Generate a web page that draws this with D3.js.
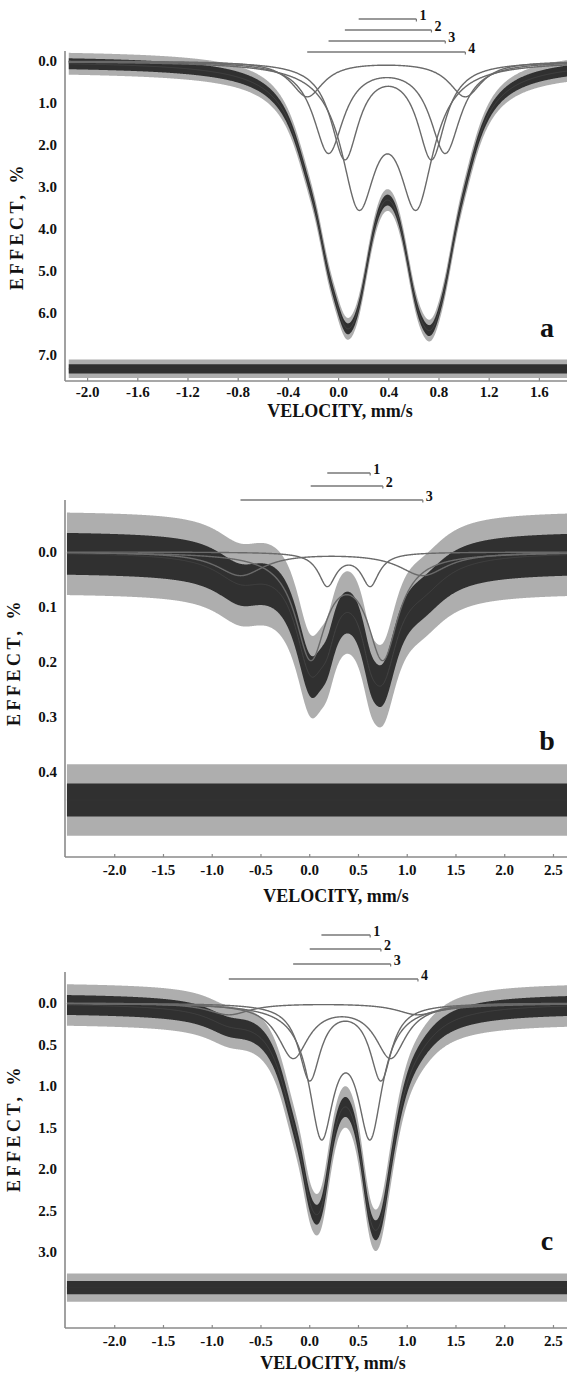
<!DOCTYPE html>
<html><head><meta charset="utf-8">
<script src="https://cdn.jsdelivr.net/npm/d3@7"></script>
<style>
body{margin:0;background:#fff}
svg{display:block}
text{font-family:"Liberation Serif","Times New Roman",serif;font-weight:bold;fill:#111}
</style>
</head><body>
<svg id="fig" width="567" height="1374"></svg>
<script>
// ---------- Panel a : doublet parameters (mm/s, effect %) ----------
const aLeftLine  = [0.16, 0.05, -0.08, -0.25];
const aRightLine = [0.62, 0.74, 0.85, 1.01];
const aHwhm      = [0.168, 0.135, 0.148, 0.158];
const aAmp       = [3.18, 2.27, 2.15, 0.84];
const aXTicks    = [-2.0, -1.6, -1.2, -0.8, -0.4, 0.0, 0.4, 0.8, 1.2, 1.6, 2.0];
const aYTicks    = [0.0, 1.0, 2.0, 3.0, 4.0, 5.0, 6.0, 7.0];
const aVelRange  = [-2.15, 1.85];
const aResidual  = 7.33;
const aNoise     = [0.13, 0.26, 0.11, 0.22]; // data core, data spikes, residual core, residual spikes

// ---------- Panel b ----------
const bLeftLine  = [0.18, 0.01, -0.71];
const bRightLine = [0.62, 0.75, 1.16];
const bHwhm      = [0.11, 0.19, 0.30];
const bAmp       = [0.0595, 0.186, 0.042];
const bXTicks    = [-2.0, -1.5, -1.0, -0.5, 0.0, 0.5, 1.0, 1.5, 2.0, 2.5, 3.0];
const bYTicks    = [0.0, 0.1, 0.2, 0.3, 0.4];
const bVelRange  = [-2.49, 2.65];
const bResidual  = 0.451;
const bNoise     = [0.038, 0.075, 0.03, 0.065];

// ---------- Panel c ----------
const cLeftLine  = [0.12, 0.0, -0.17, -0.83];
const cRightLine = [0.62, 0.73, 0.83, 1.11];
const cHwhm      = [0.155, 0.135, 0.192, 0.266];
const cAmp       = [1.517, 0.91, 0.647, 0.14];
const cXTicks    = [-2.0, -1.5, -1.0, -0.5, 0.0, 0.5, 1.0, 1.5, 2.0, 2.5, 3.0];
const cYTicks    = [0.0, 0.5, 1.0, 1.5, 2.0, 2.5, 3.0];
const cVelRange  = [-2.49, 2.65];
const cResidual  = 3.43;
const cNoise     = [0.12, 0.25, 0.08, 0.17];

const svg = d3.select("#fig");
svg.append("rect").attr("width",567).attr("height",1374).attr("fill","#fff");

function lor(v, c, g){ return g*g/((v-c)*(v-c)+g*g); }

function panel(cfg){
  const g = svg.append("g");
  const x = d3.scaleLinear().domain(cfg.xDom).range(cfg.xRng);
  const y = d3.scaleLinear().domain(cfg.yDom).range(cfg.yRng);
  const n = cfg.left.length;
  const comps = d3.range(n).map(i => ({l:cfg.left[i], r:cfg.right[i], w:cfg.hwhm[i], a:cfg.amp[i]}));
  const vs = d3.range(cfg.vel[0], cfg.vel[1]+1e-9, 0.004);
  const compVal = (c,v) => c.a*(lor(v,c.l,c.w)+lor(v,c.r,c.w));
  const total = v => d3.sum(comps, c => compVal(c,v));

  // axes lines
  const axCol = "#8a8a8a";
  g.append("line").attr("x1",cfg.xRng[0]).attr("x2",cfg.xRng[0])
    .attr("y1",cfg.axisTop).attr("y2",cfg.axisBottom).attr("stroke",axCol).attr("stroke-width",1.6);
  g.append("line").attr("x1",cfg.xRng[0]).attr("x2",620)
    .attr("y1",cfg.axisBottom).attr("y2",cfg.axisBottom).attr("stroke",axCol).attr("stroke-width",1.6);

  // x ticks
  const xa = g.append("g");
  cfg.xTicks.forEach(t => {
    const px = x(t);
    xa.append("line").attr("x1",px).attr("x2",px).attr("y1",cfg.axisBottom).attr("y2",cfg.axisBottom-3)
      .attr("stroke",axCol).attr("stroke-width",1.2);
    xa.append("text").attr("x",px).attr("y",cfg.axisBottom+cfg.tickDy).attr("text-anchor","middle")
      .attr("font-size",15).text(d3.format(".1f")(t).replace("\u2212","-"));
  });
  // y tick labels
  cfg.yTicks.forEach(t => {
    g.append("text").attr("x",cfg.xRng[0]-8).attr("y",y(t)+5).attr("text-anchor","end")
      .attr("font-size",15).text(d3.format(".1f")(t));
  });

  // data band (experimental points with errors)
  const areaOf = (f, h) => d3.area().x(v => x(v)).y0(v => y(f(v)-h)).y1(v => y(f(v)+h));
  g.append("path").datum(vs).attr("d", areaOf(total, cfg.noise[1])).attr("fill","#9a9a9a").attr("opacity",0.8);
  g.append("path").datum(vs).attr("d", areaOf(total, cfg.noise[0])).attr("fill","#222").attr("opacity",0.9);
  // residual band
  const resid = () => cfg.resid;
  g.append("path").datum(vs).attr("d", areaOf(resid, cfg.noise[3])).attr("fill","#9a9a9a").attr("opacity",0.8);
  g.append("path").datum(vs).attr("d", areaOf(resid, cfg.noise[2])).attr("fill","#222").attr("opacity",0.9);
  g.append("line").attr("x1",x(cfg.vel[0])).attr("x2",x(cfg.vel[1]))
    .attr("y1",y(cfg.resid)).attr("y2",y(cfg.resid)).attr("stroke","#333").attr("stroke-width",1);

  // component curves
  const line = d3.line().x(v => x(v));
  comps.forEach(c => {
    g.append("path").datum(vs).attr("d", line.y(v => y(compVal(c,v)))).attr("fill","none")
      .attr("stroke","#6a6a6a").attr("stroke-width",1.4);
  });
  g.append("path").datum(vs).attr("d", line.y(v => y(total(v)))).attr("fill","none")
    .attr("stroke","#444").attr("stroke-width",1);

  // legend bars
  comps.forEach((c,i) => {
    const by = cfg.barY[i];
    g.append("line").attr("x1",x(c.l)).attr("x2",x(c.r)).attr("y1",by).attr("y2",by)
      .attr("stroke","#777").attr("stroke-width",1.5);
    g.append("line").attr("x1",x(c.r)).attr("x2",x(c.r)).attr("y1",by).attr("y2",by+2.5)
      .attr("stroke","#777").attr("stroke-width",1.2);
    g.append("text").attr("x",x(c.r)+3).attr("y",by+1).attr("font-size",14).text(i+1);
  });

  // axis titles
  g.append("text").attr("transform",`translate(${cfg.yTitle[0]},${cfg.yTitle[1]}) rotate(-90)`)
    .attr("text-anchor","middle").attr("font-size",18).attr("letter-spacing","3.5px").text("EFFECT, %");
  g.append("text").attr("x",cfg.xTitle[0]).attr("y",cfg.xTitle[1]).attr("text-anchor","middle")
    .attr("font-size",18).text("VELOCITY, mm/s");
  g.append("text").attr("x",cfg.letter[0]).attr("y",cfg.letter[1]).attr("text-anchor","middle")
    .attr("font-size",28).text(cfg.name);
}

panel({name:"a", left:aLeftLine, right:aRightLine, hwhm:aHwhm, amp:aAmp, xTicks:aXTicks.filter(t=>t<1.9), yTicks:aYTicks,
  vel:aVelRange, resid:aResidual, noise:aNoise,
  xDom:[-2.18,2.2], xRng:[65,65+4.38*125.5], yDom:[0,7], yRng:[61,355], axisTop:51, axisBottom:381, tickDy:16,
  barY:[19,30,41,52], yTitle:[23,226], xTitle:[340,417], letter:[547,337]});

panel({name:"b", left:bLeftLine, right:bRightLine, hwhm:bHwhm, amp:bAmp, xTicks:bXTicks.filter(t=>t<2.9), yTicks:bYTicks,
  vel:bVelRange, resid:bResidual, noise:bNoise,
  xDom:[-2.51,2.8], xRng:[65,65+5.31*97.5], yDom:[0,0.4], yRng:[552,772], axisTop:500, axisBottom:857, tickDy:18,
  barY:[473,486,500], yTitle:[20,662], xTitle:[336,902], letter:[547,750]});

panel({name:"c", left:cLeftLine, right:cRightLine, hwhm:cHwhm, amp:cAmp, xTicks:cXTicks.filter(t=>t<2.9), yTicks:cYTicks,
  vel:cVelRange, resid:cResidual, noise:cNoise,
  xDom:[-2.51,2.8], xRng:[65,65+5.31*97.5], yDom:[0,3], yRng:[1003,1252], axisTop:972, axisBottom:1328, tickDy:18,
  barY:[935,949,964,979], yTitle:[20,1128], xTitle:[333,1369], letter:[547,1250]});
</script>
</body></html>
